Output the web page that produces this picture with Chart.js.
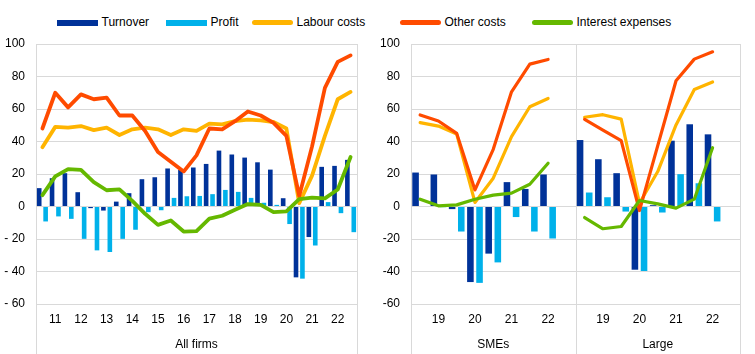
<!DOCTYPE html>
<html>
<head>
<meta charset="utf-8">
<script src="https://cdn.jsdelivr.net/npm/chart.js@4.4.0/dist/chart.umd.min.js"></script>
<style>
  body{margin:0;background:#fff;font-family:"Liberation Sans",Arial,sans-serif;}
  #wrap{position:relative;width:755px;height:354px;overflow:hidden;}
  canvas{position:absolute;top:0;}
  #left{left:0;}
  #right{left:362px;}
  .sw{position:absolute;top:20px;width:41px;height:5px;}
  .tx{position:absolute;top:15px;font-size:12px;line-height:15px;color:#000;white-space:nowrap;}
</style>
</head>
<body>
<div id="wrap">
  <div id="legend"></div>
  <canvas id="left" width="362" height="354"></canvas>
  <canvas id="right" width="393" height="354"></canvas>
</div>
<script>
// all firms, half-yearly
const allLabels = ['', '11', '', '12', '', '13', '', '14', '', '15', '', '16', '', '17', '', '18', '', '19', '', '20', '', '21', '', '22', ''];
const allTurnover = [11.3, 17.4, 20.5, 8.8, -1, -2.5, 3, 8.2, 16.8, 18, 23.4, 22.5, 24, 26.2, 34.4, 32, 30.1, 27.2, 22.7, 5.1, -43.6, -18.8, 24.4, 25, 28.7];
const allProfit = [-9.2, -6.1, -7.6, -19.9, -27, -28, -19.9, -14.3, -3.5, -2.3, 5.3, 6.3, 6.5, 7.6, 10.2, 9, 5.3, 2.3, 1, -10.8, -44.4, -24, 2.7, -4.1, -15.8];
const allLabour = [36.5, 49, 48.5, 49.5, 47, 48.5, 44, 47.5, 48.5, 47.5, 44, 47.5, 46.5, 51, 50.5, 52.5, 53.5, 53, 52, 48, 2, 19, 43.5, 66, 70.5];
const allOther = [48, 70, 61, 69, 66, 67, 56, 56, 46.5, 33.5, 27.5, 21.5, 31.5, 48, 47.5, 52.5, 58.5, 56, 51.5, 43.5, 6.5, 37, 73, 89, 93];
const allInterest = [7, 18.5, 23, 22.5, 15, 10, 10.5, 3.5, -4.5, -11.3, -8.6, -15.4, -15.1, -7.5, -5.7, -2, 1.5, 1, -3.5, -3, 4.5, 5.5, 5, 10.5, 30.5];

// SMEs and large firms
const sizeLabels = ['', '19', '', '20', '', '21', '', '22', ''];
const smeTurnover = [20.9, 19.7, -1.6, -46.5, -29, 15, 10.8, 19.7];
const smeProfit = [0.3, -0.4, -15.4, -47, -34.4, -6.5, -15.4, -19.7];
const smeLabour = [51.6, 49.5, 44.6, 2.5, 17.4, 43, 61.4, 66.5];
const smeOther = [56.3, 52.6, 45, 10.2, 35.2, 70.6, 87.6, 90.5];
const smeInterest = [4.5, 0.4, 1, 4.5, 7, 8.2, 13.7, 26.6];
const lgTurnover = [40.9, 29.1, 20.5, -38.9, 0.8, 40.5, 50.6, 44.4];
const lgProfit = [8.6, 5.7, -3.1, -39.7, -3.7, 19.9, 14.3, -9.2];
const lgLabour = [54.9, 56.5, 53.8, 2, 21.5, 50.2, 72, 76.6];
const lgOther = [53.6, 47, 40.5, -2.5, 37.5, 77.4, 90.7, 95.2];
const lgInterest = [-6.8, -13.7, -12.3, 3.7, 1.6, -1, 4.5, 36.2];

const seriesNames = ['Turnover', 'Profit', 'Labour costs', 'Other costs', 'Interest expenses'];
const colors = ['#003299', '#00b1ea', '#ffb400', '#ff4b00', '#65b800'];
const GRID = '#d9d9d9';

Chart.defaults.font.family = '"Liberation Sans", Arial, sans-serif';
Chart.defaults.font.size = 12;
Chart.defaults.color = '#000';

// html legend
const legendX = [57, 166, 252, 400, 532];
const lg = document.getElementById('legend');
seriesNames.forEach((n, i) => {
  const s = document.createElement('div');
  s.className = 'sw';
  s.style.left = legendX[i] + 'px';
  s.style.background = colors[i];
  if(i > 1) s.style.borderRadius = '3px';
  else { s.style.height = '6px'; s.style.top = '19.5px'; }
  lg.appendChild(s);
  const t = document.createElement('div');
  t.className = 'tx';
  t.style.left = (legendX[i] + 44.5) + 'px';
  t.innerText = n;
  lg.appendChild(t);
});

// vertical panel borders, running down through the axis labels
const separators = {
  id: 'separators',
  beforeDatasetsDraw(chart, args, opts){
    const {ctx, chartArea: a} = chart;
    const x = chart.scales.x;
    const xs = [a.left, a.right];
    (opts.after || []).forEach(i => xs.push((x.getPixelForTick(i) + x.getPixelForTick(i + 1)) / 2));
    ctx.save();
    ctx.strokeStyle = GRID; ctx.lineWidth = 1;
    xs.forEach(px => {
      const p = Math.round(px) + 0.5;
      ctx.beginPath(); ctx.moveTo(p, a.top); ctx.lineTo(p, chart.height); ctx.stroke();
    });
    ctx.restore();
  }
};

function makeDatasets(t, p, l, o, r, lw){
  const line = (d, i, ord) => ({type: 'line', label: seriesNames[i], data: d, borderColor: colors[i], backgroundColor: colors[i],
    borderWidth: lw, pointRadius: 0, tension: 0, borderJoinStyle: 'round', borderCapStyle: 'round', spanGaps: false, order: ord});
  return [
    {type: 'bar', label: seriesNames[0], data: t, backgroundColor: colors[0], order: 4, barPercentage: 0.72, categoryPercentage: 1},
    {type: 'bar', label: seriesNames[1], data: p, backgroundColor: colors[1], order: 5, barPercentage: 0.72, categoryPercentage: 1},
    line(l, 2, 3),
    line(o, 3, 2),
    line(r, 4, 1)
  ];
}

function makeOptions(yWidth, padRight, groups, yFmt, after){
  return {
    responsive: false, animation: false, devicePixelRatio: 1,
    layout: {padding: {top: 44, right: padRight, left: 0, bottom: 0}},
    plugins: {legend: {display: false}, tooltip: {enabled: false}, separators: {after}},
    scales: {
      x: {grid: {display: false}, border: {display: false}, weight: 0,
          ticks: {autoSkip: false, maxRotation: 0, padding: 0}, afterFit: s => { s.height = 25; }},
      x2: {type: 'category', labels: groups, position: 'bottom', offset: true, weight: 1,
           grid: {display: false}, border: {display: false},
           ticks: {padding: 0, maxRotation: 0}, afterFit: s => { s.height = 25; }},
      y: {min: -60, max: 100, border: {display: false},
          grid: {color: GRID, drawTicks: false},
          ticks: {stepSize: 20, padding: 11, callback: yFmt},
          afterFit: s => { s.width = yWidth; }}
    }
  };
}

new Chart(document.getElementById('left'), {
  type: 'bar',
  data: {labels: allLabels, datasets: makeDatasets(allTurnover, allProfit, allLabour, allOther, allInterest, 3.8)},
  options: makeOptions(36, 5, ['All firms'], v => v < 0 ? '- ' + Math.abs(v) : v, []),
  plugins: [separators]
});

const both = (a, b) => a.concat([null], b, [null]);
new Chart(document.getElementById('right'), {
  type: 'bar',
  data: {labels: sizeLabels.concat(sizeLabels),
    datasets: makeDatasets(both(smeTurnover, lgTurnover), both(smeProfit, lgProfit), both(smeLabour, lgLabour),
      both(smeOther, lgOther), both(smeInterest, lgInterest), 3.2)},
  options: makeOptions(49, 15, ['SMEs', 'Large'], v => v, [8]),
  plugins: [separators]
});
</script>
</body>
</html>
